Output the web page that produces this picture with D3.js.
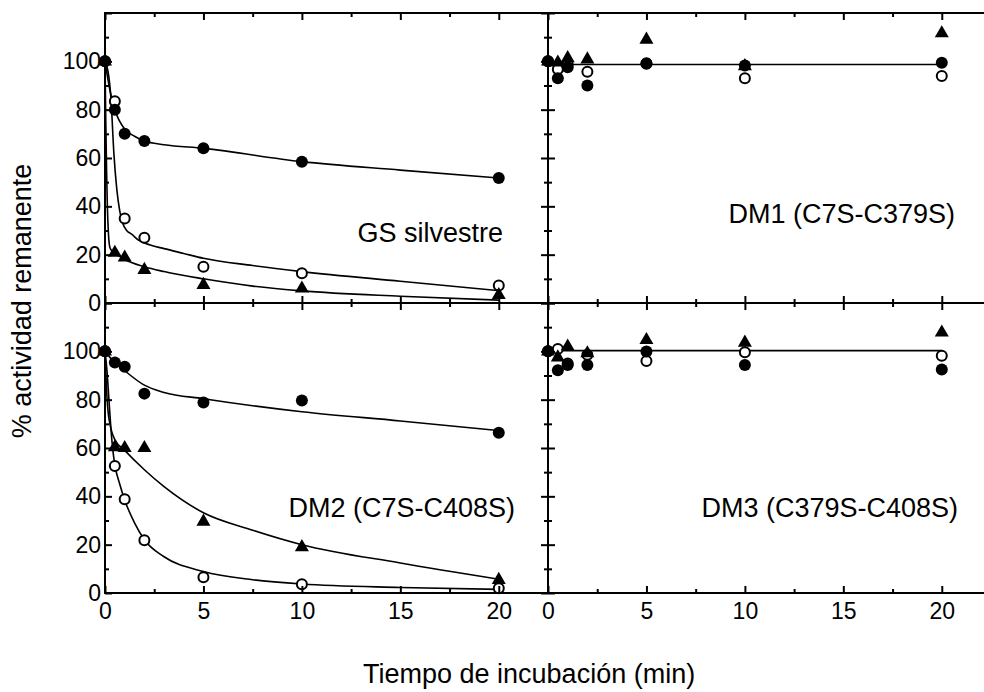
<!DOCTYPE html>
<html>
  <head>
    <meta charset="utf-8" />
    <script src="https://cdn.jsdelivr.net/npm/d3@7"></script>
    <style>
      body { margin: 0; background: #fff; }
      text { font-family: "Liberation Sans", Arial, sans-serif; fill: #000; }
    </style>
  </head>
  <body>
    <div id="chart"></div>
    <script>
      // incubation times (min)
      const times = [0, 0.5, 1, 2, 5, 10, 20];

      // GS silvestre (top left)
      const gsFilled = [100, 80, 70, 67, 64, 58.4, 51.7];
      const gsOpen = [100, 83.5, 35, 27, 15, 12.3, 7.2];
      const gsTri = [100, 20.8, 18.8, 13.7, 7.5, 6, 3.3];
      const gsFilledFitT = [0, 0.25, 0.5, 1, 1.5, 2, 3, 5, 10, 15, 20];
      const gsFilledFit = [100, 88, 80, 72, 69, 67, 65.5, 64, 58.5, 55, 51.7];
      const gsOpenFitT = [0, 0.15, 0.3, 0.45, 0.6, 0.75, 0.9, 1.1, 1.35, 1.7, 2.3, 3, 4, 5, 7.5, 10, 15, 20];
      const gsOpenFit = [100, 96, 85, 62, 47, 38, 33, 30, 28.5, 26, 24, 22.5, 20.5, 18.5, 15.5, 13, 9, 5.1];
      const gsTriFitT = [0, 0.04, 0.08, 0.12, 0.18, 0.25, 0.4, 0.7, 1, 2, 3, 5, 7.5, 10, 15, 20];
      const gsTriFit = [100, 75, 55, 40, 28, 23, 21, 19.5, 18, 15, 13, 10, 7, 5, 2.8, 1.2];

      // DM1 (C7S-C379S) (top right)
      const dm1Filled = [100, 93, 97.6, 90, 99.2, 98.3, 99.4];
      const dm1Open = [100, 96.7, 98.8, 95.7, 99, 93, 93.9];
      const dm1Tri = [100, 99.5, 101.3, 100.8, 109, 98, 111.6];
      const dm1FitT = [0, 20];
      const dm1Fit = [98.7, 98.7];

      // DM2 (C7S-C408S) (bottom left)
      const dm2Filled = [100, 95.4, 93.6, 82.5, 78.8, 79.7, 66.3];
      const dm2Open = [100, 52.6, 38.8, 21.8, 6.5, 3.6, 2];
      const dm2Tri = [100, 60.3, 60, 60, 29.5, 19, 5.4];
      const dm2FilledFitT = [0, 0.25, 0.5, 1, 2, 3, 5, 7.5, 10, 15, 20];
      const dm2FilledFit = [100, 97.5, 95.5, 92, 86, 83, 80.4, 77.5, 75, 71.2, 67.2];
      const dm2OpenFitT = [0, 0.1, 0.2, 0.3, 0.4, 0.5, 0.75, 1, 1.5, 2, 3, 5, 7.5, 10, 15, 20];
      const dm2OpenFit = [100, 92, 80, 68, 59, 53, 45, 38.5, 29, 22, 15, 8.9, 5.5, 3.7, 2.3, 1.5];
      const dm2TriFitT = [0, 0.05, 0.1, 0.17, 0.25, 0.35, 0.5, 1, 2, 3, 5, 7.5, 10, 15, 20];
      const dm2TriFit = [100, 90, 81, 74, 70, 66.5, 63.5, 59, 51, 44, 33.2, 26, 20, 12.4, 5.7];

      // DM3 (C379S-C408S) (bottom right)
      const dm3Filled = [100, 92.2, 94.3, 94.3, 99.9, 94.3, 92.5];
      const dm3Open = [100, 101, 95, 98.6, 96, 99.6, 98.2];
      const dm3Tri = [100, 97.5, 102, 99.2, 104.7, 103.6, 107.8];
      const dm3FitT = [0, 20];
      const dm3Fit = [100.3, 100.3];

      const xTicks = [0, 5, 10, 15, 20];
      const xMinor = [2.5, 7.5, 12.5, 17.5];
      const yTicks = [0, 20, 40, 60, 80, 100, 120];
      const yMinor = [10, 30, 50, 70, 90, 110];

      const W = 984, H = 692;
      const svg = d3.select("#chart").append("svg")
        .attr("width", W).attr("height", H);

      const xL = d3.scaleLinear().domain([0, 22.5]).range([105, 548]);
      const xR = d3.scaleLinear().domain([0, 22.5]).range([548, 991]);
      const yT = d3.scaleLinear().domain([0, 120]).range([303, 13]);
      const yB = d3.scaleLinear().domain([0, 120]).range([593, 303]);

      function zip(t, v) { return t.map((d, i) => ({ t: d, v: v[i] })); }

      function drawPanel(cfg) {
        const x = cfg.x, y = cfg.y;
        const g = svg.append("g");
        const [x0, x1] = x.range();
        const [y0, y1] = y.range();

        // curves
        const line = d3.line().curve(d3.curveMonotoneX)
          .x(d => x(d.t)).y(d => y(d.v));
        cfg.fits.forEach(f => {
          g.append("path").datum(zip(f[0], f[1]))
            .attr("d", line).attr("fill", "none")
            .attr("stroke", "#000").attr("stroke-width", 1.6);
        });

        // markers
        g.selectAll(".open").data(zip(times, cfg.open)).join("circle")
          .attr("cx", d => x(d.t)).attr("cy", d => y(d.v)).attr("r", 5)
          .attr("fill", "#fff").attr("stroke", "#000").attr("stroke-width", 2);
        g.selectAll(".filled").data(zip(times, cfg.filled)).join("circle")
          .attr("cx", d => x(d.t)).attr("cy", d => y(d.v)).attr("r", 6)
          .attr("fill", "#000");
        g.selectAll(".tri").data(zip(times, cfg.tri)).join("path")
          .attr("d", d3.symbol(d3.symbolTriangle, 85))
          .attr("transform", d => "translate(" + x(d.t) + "," + y(d.v) + ")")
          .attr("fill", "#000");

        // axes (ticks point inward)
        const ax = (gen, tx, ty) => g.append("g")
          .attr("transform", "translate(" + tx + "," + ty + ")")
          .call(gen)
          .call(s => s.select(".domain").remove())
          .call(s => s.selectAll("line").attr("stroke-width", 2))
          .call(s => s.selectAll("text").attr("font-size", 23)
            .attr("font-family", "Liberation Sans, Arial, sans-serif"));

        ax(d3.axisBottom(x).tickValues(xTicks).tickSize(-7).tickPadding(10)
          .tickFormat(cfg.xLabels ? d3.format("d") : ""), 0, y0);
        ax(d3.axisBottom(x).tickValues(xMinor).tickSize(-4).tickFormat(""), 0, y0);
        ax(d3.axisTop(x).tickValues(xTicks).tickSize(-7).tickFormat(""), 0, y1);
        ax(d3.axisTop(x).tickValues(xMinor).tickSize(-4).tickFormat(""), 0, y1);
        ax(d3.axisLeft(y).tickValues(yTicks).tickSize(-7).tickPadding(4)
          .tickFormat(d => (cfg.yLabels && d < 120) ? d : ""), x0, 0);
        ax(d3.axisLeft(y).tickValues(yMinor).tickSize(-4).tickFormat(""), x0, 0);
        if (cfg.rightAxis) {
          ax(d3.axisRight(y).tickValues(yTicks).tickSize(-7).tickFormat(""), x1, 0);
          ax(d3.axisRight(y).tickValues(yMinor).tickSize(-4).tickFormat(""), x1, 0);
        }

        // frame
        g.append("rect")
          .attr("x", x0).attr("y", y1)
          .attr("width", x1 - x0).attr("height", y0 - y1)
          .attr("fill", "none").attr("stroke", "#000").attr("stroke-width", 2);

        g.append("text")
          .attr("x", cfg.label[1]).attr("y", cfg.label[2])
          .attr("text-anchor", "end").attr("font-size", 27)
          .text(cfg.label[0]);
      }

      drawPanel({
        x: xL, y: yT, filled: gsFilled, open: gsOpen, tri: gsTri,
        fits: [[gsFilledFitT, gsFilledFit], [gsOpenFitT, gsOpenFit], [gsTriFitT, gsTriFit]],
        yLabels: true, xLabels: false, rightAxis: true,
        label: ["GS silvestre", 503, 242]
      });
      drawPanel({
        x: xR, y: yT, filled: dm1Filled, open: dm1Open, tri: dm1Tri,
        fits: [[dm1FitT, dm1Fit]],
        yLabels: false, xLabels: false, rightAxis: false,
        label: ["DM1 (C7S-C379S)", 955, 223]
      });
      drawPanel({
        x: xL, y: yB, filled: dm2Filled, open: dm2Open, tri: dm2Tri,
        fits: [[dm2FilledFitT, dm2FilledFit], [dm2OpenFitT, dm2OpenFit], [dm2TriFitT, dm2TriFit]],
        yLabels: true, xLabels: true, rightAxis: true,
        label: ["DM2 (C7S-C408S)", 515, 517]
      });
      drawPanel({
        x: xR, y: yB, filled: dm3Filled, open: dm3Open, tri: dm3Tri,
        fits: [[dm3FitT, dm3Fit]],
        yLabels: false, xLabels: true, rightAxis: false,
        label: ["DM3 (C379S-C408S)", 958, 517]
      });

      // axis titles
      svg.append("text")
        .attr("transform", "translate(31,301) rotate(-90)")
        .attr("text-anchor", "middle").attr("font-size", 27)
        .text("% actividad remanente");
      svg.append("text")
        .attr("x", 363).attr("y", 683)
        .attr("font-size", 27)
        .text("Tiempo de incubación (min)");
    </script>
  </body>
</html>
